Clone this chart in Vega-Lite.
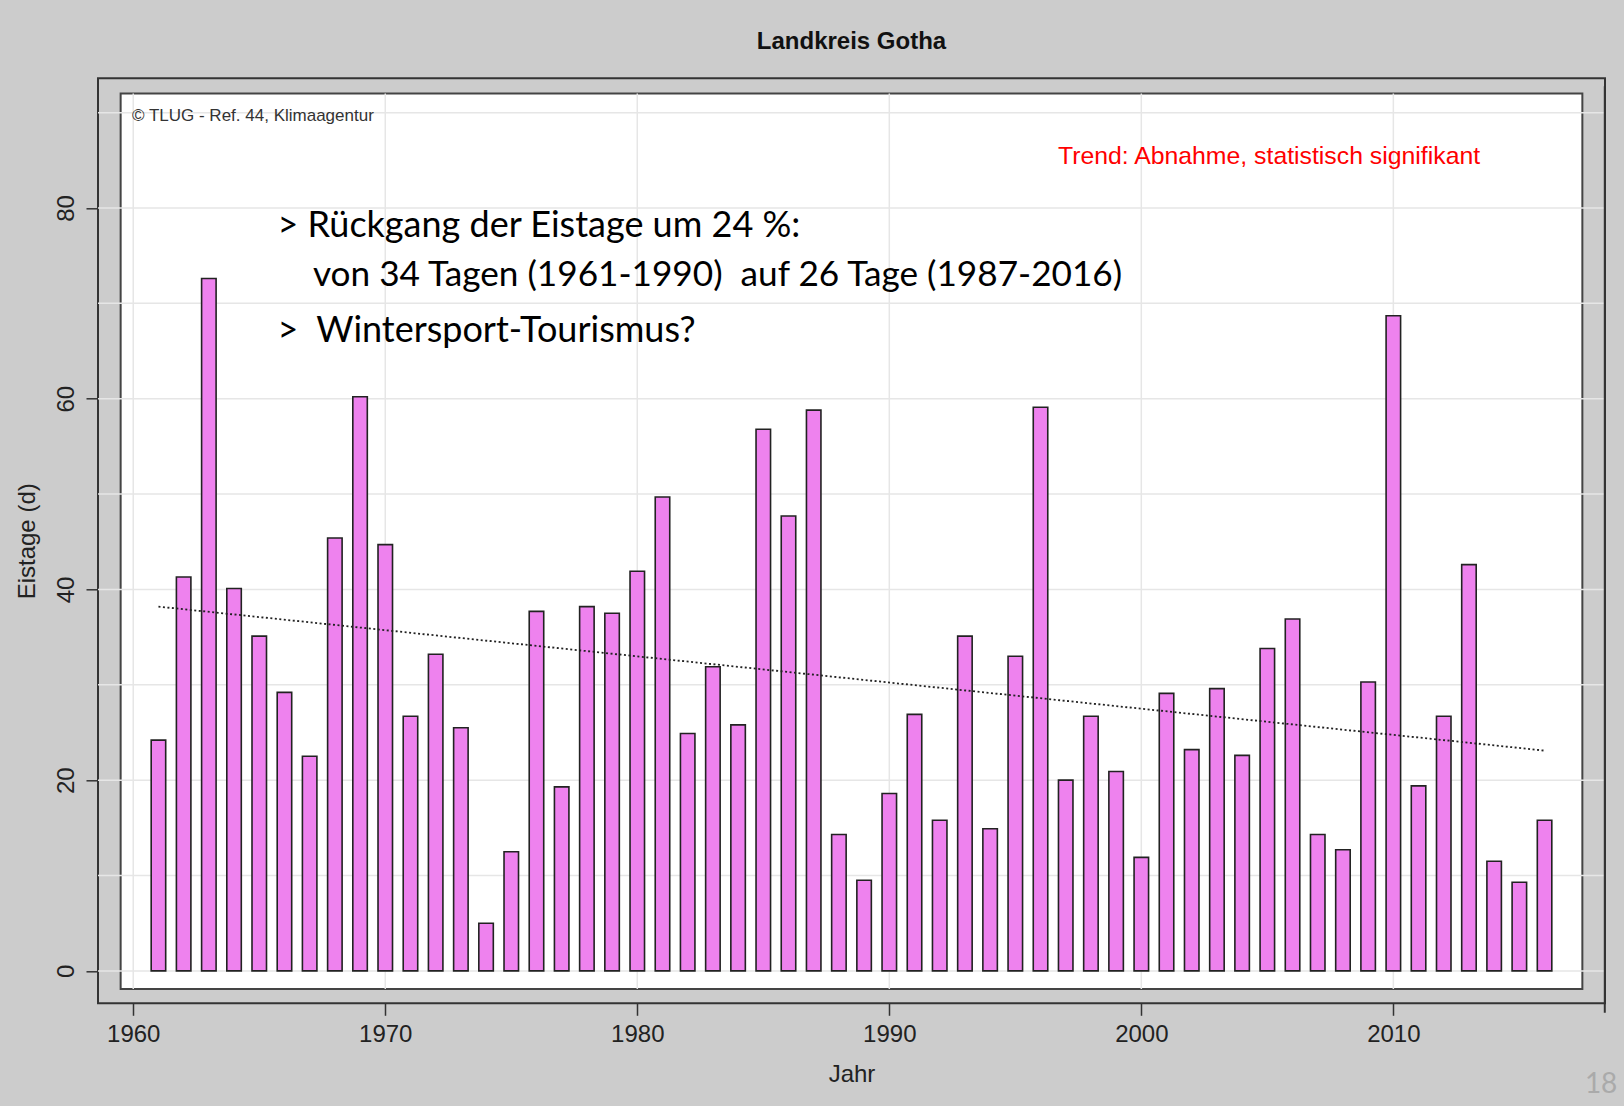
{
  "$schema": "https://vega.github.io/schema/vega-lite/v6.json",
  "width": 1507,
  "height": 925,
  "autosize": {"type": "none"},
  "padding": {"left": 98, "top": 78.3, "right": 19, "bottom": 102.7},
  "background": "#cccccc",
  "title": {
    "text": "Landkreis Gotha",
    "font": "Liberation Sans",
    "fontSize": 24,
    "fontWeight": "bold",
    "color": "#111111",
    "anchor": "middle",
    "frame": "group",
    "baseline": "alphabetic",
    "offset": 5
  },
  "config": {
    "view": {"fill": "#cccccc", "stroke": "#333333", "strokeWidth": 2},
    "axis": {
      "grid": false,
      "domain": false,
      "tickSize": 12,
      "tickColor": "#333333",
      "tickWidth": 1.5,
      "labelFont": "Liberation Sans",
      "labelFontSize": 24,
      "labelColor": "#222222",
      "labelFlush": false,
      "labelOverlap": false,
      "titleFont": "Liberation Sans",
      "titleFontSize": 24,
      "titleFontWeight": "normal",
      "titleColor": "#222222"
    }
  },
  "datasets": {
    "eistage": [
      {"Jahr": 1961, "Eistage": 24.2}, {"Jahr": 1962, "Eistage": 41.3}, {"Jahr": 1963, "Eistage": 72.6},
      {"Jahr": 1964, "Eistage": 40.1}, {"Jahr": 1965, "Eistage": 35.1}, {"Jahr": 1966, "Eistage": 29.2},
      {"Jahr": 1967, "Eistage": 22.5}, {"Jahr": 1968, "Eistage": 45.4}, {"Jahr": 1969, "Eistage": 60.2},
      {"Jahr": 1970, "Eistage": 44.7}, {"Jahr": 1971, "Eistage": 26.7}, {"Jahr": 1972, "Eistage": 33.2},
      {"Jahr": 1973, "Eistage": 25.5}, {"Jahr": 1974, "Eistage": 5.0}, {"Jahr": 1975, "Eistage": 12.5},
      {"Jahr": 1976, "Eistage": 37.7}, {"Jahr": 1977, "Eistage": 19.3}, {"Jahr": 1978, "Eistage": 38.2},
      {"Jahr": 1979, "Eistage": 37.5}, {"Jahr": 1980, "Eistage": 41.9}, {"Jahr": 1981, "Eistage": 49.7},
      {"Jahr": 1982, "Eistage": 24.9}, {"Jahr": 1983, "Eistage": 31.9}, {"Jahr": 1984, "Eistage": 25.8},
      {"Jahr": 1985, "Eistage": 56.8}, {"Jahr": 1986, "Eistage": 47.7}, {"Jahr": 1987, "Eistage": 58.8},
      {"Jahr": 1988, "Eistage": 14.3}, {"Jahr": 1989, "Eistage": 9.5}, {"Jahr": 1990, "Eistage": 18.6},
      {"Jahr": 1991, "Eistage": 26.9}, {"Jahr": 1992, "Eistage": 15.8}, {"Jahr": 1993, "Eistage": 35.1},
      {"Jahr": 1994, "Eistage": 14.9}, {"Jahr": 1995, "Eistage": 33.0}, {"Jahr": 1996, "Eistage": 59.1},
      {"Jahr": 1997, "Eistage": 20.0}, {"Jahr": 1998, "Eistage": 26.7}, {"Jahr": 1999, "Eistage": 20.9},
      {"Jahr": 2000, "Eistage": 11.9}, {"Jahr": 2001, "Eistage": 29.1}, {"Jahr": 2002, "Eistage": 23.2},
      {"Jahr": 2003, "Eistage": 29.6}, {"Jahr": 2004, "Eistage": 22.6}, {"Jahr": 2005, "Eistage": 33.8},
      {"Jahr": 2006, "Eistage": 36.9}, {"Jahr": 2007, "Eistage": 14.3}, {"Jahr": 2008, "Eistage": 12.7},
      {"Jahr": 2009, "Eistage": 30.3}, {"Jahr": 2010, "Eistage": 68.7}, {"Jahr": 2011, "Eistage": 19.4},
      {"Jahr": 2012, "Eistage": 26.7}, {"Jahr": 2013, "Eistage": 42.6}, {"Jahr": 2014, "Eistage": 11.5},
      {"Jahr": 2015, "Eistage": 9.3}, {"Jahr": 2016, "Eistage": 15.8}
    ],
    "trend": [
      {"Jahr": 1961, "Trend": 38.2},
      {"Jahr": 2016, "Trend": 23.1}
    ],
    "ygrid": [
      {"Wert": 0}, {"Wert": 10}, {"Wert": 20}, {"Wert": 30}, {"Wert": 40},
      {"Wert": 50}, {"Wert": 60}, {"Wert": 70}, {"Wert": 80}, {"Wert": 90}
    ],
    "xgrid": [
      {"Jahr": 1960}, {"Jahr": 1970}, {"Jahr": 1980}, {"Jahr": 1990}, {"Jahr": 2000}, {"Jahr": 2010}
    ]
  },
  "layer": [
    {
      "data": {"values": [{"Bereich": "Panel"}]},
      "mark": {"type": "rect", "fill": "#ffffff", "stroke": "#444444", "strokeWidth": 2},
      "encoding": {
        "x": {"datum": 1959.5, "type": "quantitative", "scale": {"domain": [1958.8, 2018.2], "nice": false, "zero": false}},
        "x2": {"datum": 2017.5},
        "y": {"datum": -1.9, "type": "quantitative", "scale": {"domain": [-3.4, 93.6], "nice": false, "zero": false}},
        "y2": {"datum": 92}
      }
    },
    {
      "data": {"name": "ygrid"},
      "mark": {"type": "rule", "color": "#e6e6e6", "strokeWidth": 1.5},
      "encoding": {
        "y": {"field": "Wert", "type": "quantitative", "title": "Eistage (d)"}
      }
    },
    {
      "data": {"name": "xgrid"},
      "mark": {"type": "rule", "color": "#e6e6e6", "strokeWidth": 1.5},
      "encoding": {
        "x": {"field": "Jahr", "type": "quantitative", "title": "Jahr"},
        "y": {"datum": -1.9, "type": "quantitative"},
        "y2": {"datum": 92}
      }
    },
    {
      "data": {"name": "eistage"},
      "mark": {"type": "bar", "fill": "#ee82ee", "stroke": "#222222", "strokeWidth": 1.6, "width": 14.5},
      "encoding": {
        "x": {
          "field": "Jahr", "type": "quantitative", "title": "Jahr",
          "scale": {"domain": [1958.8, 2018.2], "nice": false, "zero": false},
          "axis": {
            "values": [1960, 1970, 1980, 1990, 2000, 2010],
            "format": "d",
            "labelBaseline": "alphabetic",
            "labelPadding": 25.7,
            "titleBaseline": "alphabetic",
            "titleX": 753.5,
            "titleY": 78.4
          }
        },
        "y": {
          "field": "Eistage", "type": "quantitative", "title": "Eistage (d)",
          "scale": {"domain": [-3.4, 93.6], "nice": false, "zero": false},
          "axis": {
            "values": [0, 20, 40, 60, 80],
            "labelAngle": 270,
            "labelAlign": "center",
            "labelBaseline": "alphabetic",
            "labelPadding": 13,
            "titleAngle": 270,
            "titleAlign": "center",
            "titleBaseline": "alphabetic",
            "titleX": -64,
            "titleY": 462.5
          }
        }
      }
    },
    {
      "data": {"name": "trend"},
      "mark": {"type": "line", "color": "#222222", "strokeWidth": 1.8, "strokeDash": [2, 2.5]},
      "encoding": {
        "x": {"field": "Jahr", "type": "quantitative", "title": "Jahr"},
        "y": {"field": "Trend", "type": "quantitative", "title": "Eistage (d)"}
      }
    },
    {
      "data": {"values": [{"Hinweis": "Randlinie"}]},
      "mark": {"type": "rule", "color": "#333333", "strokeWidth": 2},
      "encoding": {
        "x": {"datum": 2018.39, "type": "quantitative"},
        "y": {"datum": 92.76, "type": "quantitative"},
        "y2": {"datum": -4.4}
      }
    },
    {
      "data": {"values": [{"Text": "© TLUG - Ref. 44, Klimaagentur"}]},
      "mark": {"type": "text", "font": "Liberation Sans", "fontSize": 17, "color": "#333333", "align": "left", "baseline": "alphabetic"},
      "encoding": {
        "x": {"datum": 1959.95, "type": "quantitative"},
        "y": {"datum": 89.12, "type": "quantitative"},
        "text": {"field": "Text"}
      }
    },
    {
      "data": {"values": [{"Text": "Trend: Abnahme, statistisch signifikant"}]},
      "mark": {"type": "text", "font": "Liberation Sans", "fontSize": 24.8, "color": "#ff0000", "align": "left", "baseline": "alphabetic"},
      "encoding": {
        "x": {"datum": 1996.69, "type": "quantitative"},
        "y": {"datum": 84.66, "type": "quantitative"},
        "text": {"field": "Text"}
      }
    },
    {
      "data": {"values": [{"Text": "> Rückgang der Eistage um 24 %:"}]},
      "mark": {"type": "text", "font": "Lato", "fontSize": 36, "color": "#000000", "align": "left", "baseline": "alphabetic"},
      "encoding": {
        "x": {"datum": 1965.72, "type": "quantitative"},
        "y": {"datum": 76.95, "type": "quantitative"},
        "text": {"field": "Text"}
      }
    },
    {
      "data": {"values": [{"Text": "von 34 Tagen (1961-1990)\u00a0 auf 26 Tage (1987-2016)"}]},
      "mark": {"type": "text", "font": "Lato", "fontSize": 35.2, "color": "#000000", "align": "left", "baseline": "alphabetic"},
      "encoding": {
        "x": {"datum": 1967.13, "type": "quantitative"},
        "y": {"datum": 71.85, "type": "quantitative"},
        "text": {"field": "Text"}
      }
    },
    {
      "data": {"values": [{"Text": ">\u00a0 Wintersport-Tourismus?"}]},
      "mark": {"type": "text", "font": "Lato", "fontSize": 36, "color": "#000000", "align": "left", "baseline": "alphabetic"},
      "encoding": {
        "x": {"datum": 1965.72, "type": "quantitative"},
        "y": {"datum": 65.95, "type": "quantitative"},
        "text": {"field": "Text"}
      }
    },
    {
      "data": {"values": [{"Text": "18"}]},
      "mark": {"type": "text", "font": "Lato", "fontSize": 28, "color": "#aaaaaa", "align": "left", "baseline": "alphabetic"},
      "encoding": {
        "x": {"datum": 2017.6, "type": "quantitative"},
        "y": {"datum": -12.8, "type": "quantitative"},
        "text": {"field": "Text"}
      }
    }
  ]
}
